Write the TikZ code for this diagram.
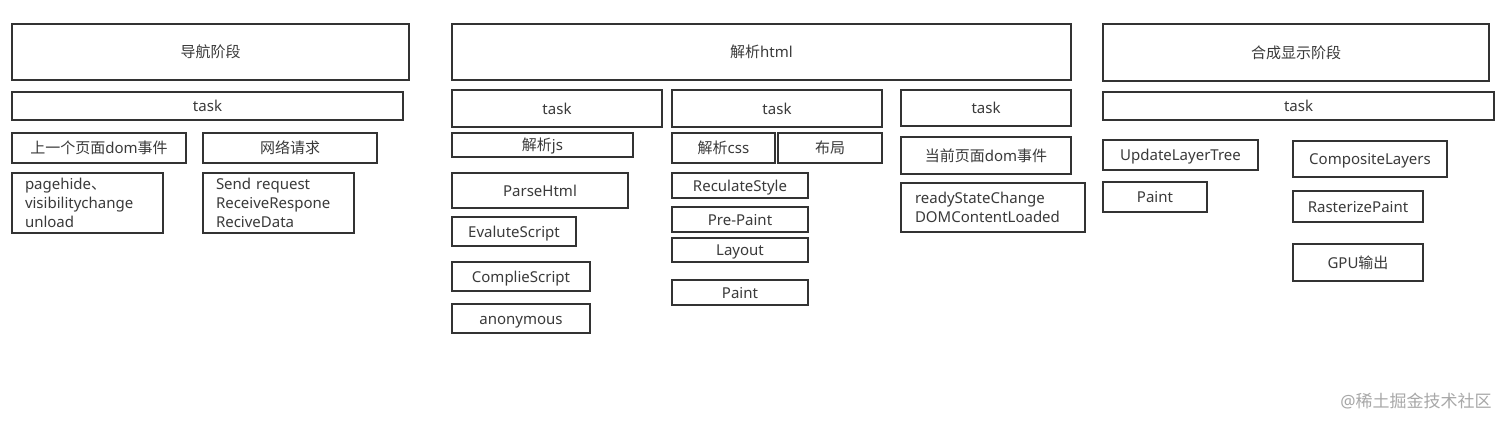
\documentclass[tikz,border=0pt]{standalone}
\usepackage{fontspec}
\setmainfont{Noto Sans}
\newfontfamily\cjk{Noto Sans CJK SC}
\definecolor{edgec}{HTML}{333333}
\definecolor{inkc}{HTML}{3A3A3A}
\definecolor{markc}{HTML}{A8A8A8}
\begin{document}
\begin{tikzpicture}[x=1pt,y=-1pt,
  box/.style={draw=edgec,line width=2.3pt,inner sep=0pt,text=inkc,
    font=\fontsize{15}{19}\selectfont,fill=white,text height=13pt,text depth=2pt},
  sz/.style 2 args={minimum width=#1pt,minimum height=#2pt},
  multi/.style={align=left,text width=#1pt,text height={},text depth={}}]
\useasboundingbox[fill=white] (0,0) rectangle (1512,424);

% navigation stage
\node[box,sz={397}{56}] (nav) at (210.5,52) {\cjk 导航阶段};
\node[box,sz={391}{28}] (navtask) at (207.5,106) {task};
\node[box,sz={174}{30}] (prevdom) at (99,148) {{\cjk 上一个页面}dom{\cjk 事件}};
\node[box,sz={174}{30}] (net) at (290,148) {\cjk 网络请求};
\node[box,sz={151}{60},multi=125] (pagehide) at (87.5,203) {pagehide{\cjk 、}\\visibilitychange\\unload};
\node[box,sz={151}{60},multi=125] (sendreq) at (278.5,203) {Send request\\ReceiveRespone\\ReciveData};

% parse html
\node[box,sz={619}{56}] (html) at (761.5,52) {{\cjk 解析}html};
\node[box,sz={210}{37}] (t1) at (557,108.5) {task};
\node[box,sz={210}{37}] (t2) at (777,108.5) {task};
\node[box,sz={170}{36}] (t3) at (986,108) {task};
\node[box,sz={181}{24}] (js) at (542.5,145) {{\cjk 解析}js};
\node[box,sz={176}{35}] (parse) at (540,190.5) {ParseHtml};
\node[box,sz={124}{29}] (eval) at (514,231.5) {EvaluteScript};
\node[box,sz={138}{29}] (compile) at (521,276.5) {ComplieScript};
\node[box,sz={138}{29}] (anon) at (521,318.5) {anonymous};
\node[box,sz={103}{30}] (css) at (723.5,148) {{\cjk 解析}css};
\node[box,sz={104}{30}] (buju) at (830,148) {\cjk 布局};
\node[box,sz={136}{25}] (recalc) at (740,185.5) {ReculateStyle};
\node[box,sz={136}{25}] (prepaint) at (740,219.5) {Pre-Paint};
\node[box,sz={136}{24}] (layout) at (740,250) {Layout};
\node[box,sz={136}{25}] (paintA) at (740,292.5) {Paint};
\node[box,sz={170}{37}] (curdom) at (986,155.5) {{\cjk 当前页面}dom{\cjk 事件}};
\node[box,sz={184}{49},multi=156] (ready) at (993,207.5) {readyStateChange\\DOMContentLoaded};

% composite stage
\node[box,sz={386}{57}] (comp) at (1296,52.5) {\cjk 合成显示阶段};
\node[box,sz={391}{28}] (ctask) at (1298.5,106) {task};
\node[box,sz={155}{30}] (ult) at (1180.5,155) {UpdateLayerTree};
\node[box,sz={104}{30}] (paintB) at (1155,197) {Paint};
\node[box,sz={154}{36}] (clay) at (1370,159) {CompositeLayers};
\node[box,sz={130}{31}] (raster) at (1358,206.5) {RasterizePaint};
\node[box,sz={130}{37}] (gpu) at (1358,262.5) {GPU{\cjk 输出}};

% watermark
\node[text=markc,inner sep=0pt,font=\fontsize{17}{20}\selectfont] (wm) at (1416,401) {@{\cjk 稀土掘金技术社区}};
\end{tikzpicture}
\end{document}
